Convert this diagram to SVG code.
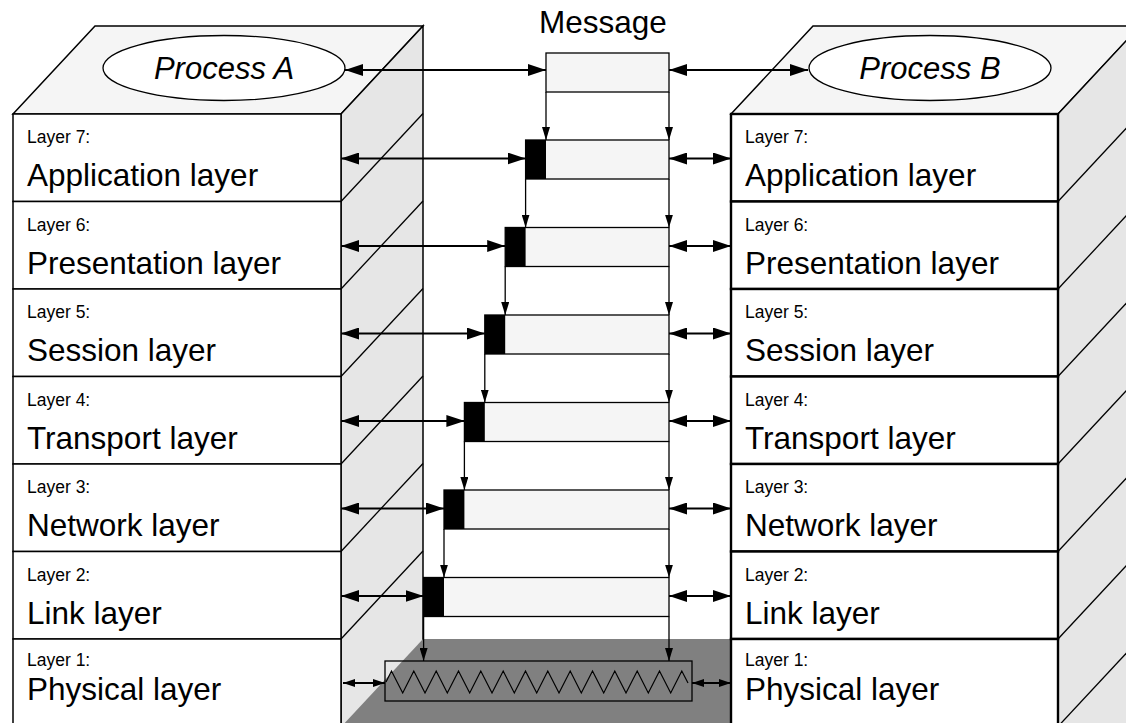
<svg xmlns="http://www.w3.org/2000/svg" width="1126" height="723" viewBox="0 0 1126 723">
<defs>
<style>
text{font-family:"Liberation Sans",Arial,sans-serif;fill:#000}
.sm{font-size:17.5px}
.lg{font-size:31.5px}
.it{font-size:31px;font-style:italic}
.face{stroke:#000;stroke-width:1.5;stroke-linejoin:miter}
.top{fill:#f5f5f5}
.side{fill:#e6e6e6}
.fl{fill:#fff;stroke:#000;stroke-width:1.5}
.fr{fill:#fff;stroke:#000;stroke-width:2.4}
.diag{stroke:#000;stroke-width:1.3;fill:none}
.pk{fill:#f5f5f5;stroke:#000;stroke-width:1.3}
.hd{fill:#000}
.h{stroke:#000;stroke-width:2.2;fill:none;marker-start:url(#ah);marker-end:url(#ah)}
.hs{stroke:#000;stroke-width:2;fill:none;marker-start:url(#as);marker-end:url(#as)}
.v{stroke:#000;stroke-width:1.3;fill:none;marker-end:url(#av)}
</style>
<marker id="ah" markerUnits="userSpaceOnUse" markerWidth="18" markerHeight="12" refX="18" refY="6" orient="auto-start-reverse"><path d="M0,0 L18,6 L0,12 Z" fill="#000"/></marker>
<marker id="as" markerUnits="userSpaceOnUse" markerWidth="12" markerHeight="8" refX="12" refY="4" orient="auto-start-reverse"><path d="M0,0 L12,4 L0,8 Z" fill="#000"/></marker>
<marker id="av" markerUnits="userSpaceOnUse" markerWidth="13" markerHeight="8" refX="13" refY="4" orient="auto"><path d="M0,0 L13,4 L0,8 Z" fill="#000"/></marker>
</defs>

<g id="stack-a">
<polygon class="face top" points="13,114 95,26 423,26 341,114"/>
<polygon class="face side" points="341,114 423,26 423,727 341,727"/>
<g class="diag">
<line x1="341" y1="201.5" x2="423" y2="113.5"/>
<line x1="341" y1="289" x2="423" y2="201"/>
<line x1="341" y1="376.5" x2="423" y2="288.5"/>
<line x1="341" y1="464" x2="423" y2="376"/>
<line x1="341" y1="551.5" x2="423" y2="463.5"/>
<line x1="341" y1="639" x2="423" y2="551"/>
</g>
<ellipse cx="224" cy="68" rx="121" ry="32.5" fill="#fff" stroke="#000" stroke-width="1.3"/>
<text class="it" x="224" y="79" text-anchor="middle">Process A</text>
</g>

<g id="stack-b">
<polygon class="face top" points="731,114 813,26 1140,26 1058,114"/>
<polygon class="face side" points="1058,114 1140,26 1140,727 1058,727"/>
<g class="diag">
<line x1="1058" y1="201.5" x2="1140" y2="113.5"/>
<line x1="1058" y1="289" x2="1140" y2="201"/>
<line x1="1058" y1="376.5" x2="1140" y2="288.5"/>
<line x1="1058" y1="464" x2="1140" y2="376"/>
<line x1="1058" y1="551.5" x2="1140" y2="463.5"/>
<line x1="1058" y1="639" x2="1140" y2="551"/>
<line x1="1058" y1="726.5" x2="1140" y2="638.5"/>
</g>
<ellipse cx="930" cy="68" rx="121" ry="32.5" fill="#fff" stroke="#000" stroke-width="1.3"/>
<text class="it" x="930" y="79" text-anchor="middle">Process B</text>
</g>

<g id="physical-medium">
<polygon points="341,727 423,639 731,639 731,727" fill="#808080"/>
</g>

<g id="a-layers">
<rect class="fl" x="13" y="114" width="328" height="87.5"/>
<rect class="fl" x="13" y="201.5" width="328" height="87.5"/>
<rect class="fl" x="13" y="289" width="328" height="87.5"/>
<rect class="fl" x="13" y="376.5" width="328" height="87.5"/>
<rect class="fl" x="13" y="464" width="328" height="87.5"/>
<rect class="fl" x="13" y="551.5" width="328" height="87.5"/>
<rect class="fl" x="13" y="639" width="328" height="90"/>
<text class="sm" x="27" y="143">Layer 7:</text><text class="lg" x="27" y="186">Application layer</text>
<text class="sm" x="27" y="230.5">Layer 6:</text><text class="lg" x="27" y="273.5">Presentation layer</text>
<text class="sm" x="27" y="318">Layer 5:</text><text class="lg" x="27" y="361">Session layer</text>
<text class="sm" x="27" y="405.5">Layer 4:</text><text class="lg" x="27" y="448.5">Transport layer</text>
<text class="sm" x="27" y="493">Layer 3:</text><text class="lg" x="27" y="536">Network layer</text>
<text class="sm" x="27" y="580.5">Layer 2:</text><text class="lg" x="27" y="623.5">Link layer</text>
<text class="sm" x="27" y="666">Layer 1:</text><text class="lg" x="27" y="699.5">Physical layer</text>
</g>

<g id="b-layers">
<rect class="fr" x="731" y="114" width="327" height="87.5"/>
<rect class="fr" x="731" y="201.5" width="327" height="87.5"/>
<rect class="fr" x="731" y="289" width="327" height="87.5"/>
<rect class="fr" x="731" y="376.5" width="327" height="87.5"/>
<rect class="fr" x="731" y="464" width="327" height="87.5"/>
<rect class="fr" x="731" y="551.5" width="327" height="87.5"/>
<rect class="fr" x="731" y="639" width="327" height="90"/>
<text class="sm" x="745" y="143">Layer 7:</text><text class="lg" x="745" y="186">Application layer</text>
<text class="sm" x="745" y="230.5">Layer 6:</text><text class="lg" x="745" y="273.5">Presentation layer</text>
<text class="sm" x="745" y="318">Layer 5:</text><text class="lg" x="745" y="361">Session layer</text>
<text class="sm" x="745" y="405.5">Layer 4:</text><text class="lg" x="745" y="448.5">Transport layer</text>
<text class="sm" x="745" y="493">Layer 3:</text><text class="lg" x="745" y="536">Network layer</text>
<text class="sm" x="745" y="580.5">Layer 2:</text><text class="lg" x="745" y="623.5">Link layer</text>
<text class="sm" x="745" y="666">Layer 1:</text><text class="lg" x="745" y="699.5">Physical layer</text>
</g>

<g id="message">
<text class="lg" x="603" y="33" text-anchor="middle">Message</text>
<rect class="pk" x="546" y="53" width="123" height="39"/>
</g>

<g id="packets">
<rect class="pk" x="525.6" y="140" width="143.4" height="39"/><rect class="hd" x="525.6" y="140" width="20.4" height="39"/>
<rect class="pk" x="505.2" y="227.5" width="163.8" height="39"/><rect class="hd" x="505.2" y="227.5" width="20.4" height="39"/>
<rect class="pk" x="484.8" y="315" width="184.2" height="39"/><rect class="hd" x="484.8" y="315" width="20.4" height="39"/>
<rect class="pk" x="464.4" y="402.5" width="204.6" height="39"/><rect class="hd" x="464.4" y="402.5" width="20.4" height="39"/>
<rect class="pk" x="444" y="490" width="225" height="39"/><rect class="hd" x="444" y="490" width="20.4" height="39"/>
<rect class="pk" x="423.6" y="577.5" width="245.4" height="39"/><rect class="hd" x="423.6" y="577.5" width="20.4" height="39"/>
</g>

<g id="wire">
<rect x="385" y="661" width="307" height="40" fill="none" stroke="#000" stroke-width="1.3"/>
<polyline fill="none" stroke="#000" stroke-width="1.2" points="386,682 391.5,671 402.7,693 413.8,671 425,693 436.2,671 447.3,693 458.5,671 469.7,693 480.8,671 492,693 503.2,671 514.3,693 525.5,671 536.7,693 547.8,671 559,693 570.2,671 581.3,693 592.5,671 603.7,693 614.8,671 626,693 637.2,671 648.3,693 659.5,671 670.7,693 681.8,671 688,683"/>
</g>

<g id="connectors">
<line class="h" x1="345" y1="70" x2="546" y2="70"/>
<line class="h" x1="669" y1="70" x2="808" y2="70"/>

<line class="h" x1="341" y1="158.5" x2="525.6" y2="158.5"/>
<line class="h" x1="341" y1="246" x2="505.2" y2="246"/>
<line class="h" x1="341" y1="333.5" x2="484.8" y2="333.5"/>
<line class="h" x1="341" y1="421" x2="464.4" y2="421"/>
<line class="h" x1="341" y1="508.5" x2="444" y2="508.5"/>
<line class="h" x1="341" y1="596" x2="423.6" y2="596"/>

<line class="h" x1="669" y1="158.5" x2="731" y2="158.5"/>
<line class="h" x1="669" y1="246" x2="731" y2="246"/>
<line class="h" x1="669" y1="333.5" x2="731" y2="333.5"/>
<line class="h" x1="669" y1="421" x2="731" y2="421"/>
<line class="h" x1="669" y1="508.5" x2="731" y2="508.5"/>
<line class="h" x1="669" y1="596" x2="731" y2="596"/>

<line class="hs" x1="343" y1="683" x2="385" y2="683"/>
<line class="hs" x1="692" y1="683" x2="731" y2="683"/>

<line class="v" x1="546" y1="92" x2="546" y2="140"/>
<line class="v" x1="669" y1="92" x2="669" y2="140"/>
<line class="v" x1="525.6" y1="179" x2="525.6" y2="227.5"/>
<line class="v" x1="669" y1="179" x2="669" y2="227.5"/>
<line class="v" x1="505.2" y1="266.5" x2="505.2" y2="315"/>
<line class="v" x1="669" y1="266.5" x2="669" y2="315"/>
<line class="v" x1="484.8" y1="354" x2="484.8" y2="402.5"/>
<line class="v" x1="669" y1="354" x2="669" y2="402.5"/>
<line class="v" x1="464.4" y1="441.5" x2="464.4" y2="490"/>
<line class="v" x1="669" y1="441.5" x2="669" y2="490"/>
<line class="v" x1="444" y1="529" x2="444" y2="577.5"/>
<line class="v" x1="669" y1="529" x2="669" y2="577.5"/>
<line class="v" x1="423.6" y1="616.5" x2="423.6" y2="661"/>
<line class="v" x1="669" y1="616.5" x2="669" y2="661"/>
</g>
</svg>
